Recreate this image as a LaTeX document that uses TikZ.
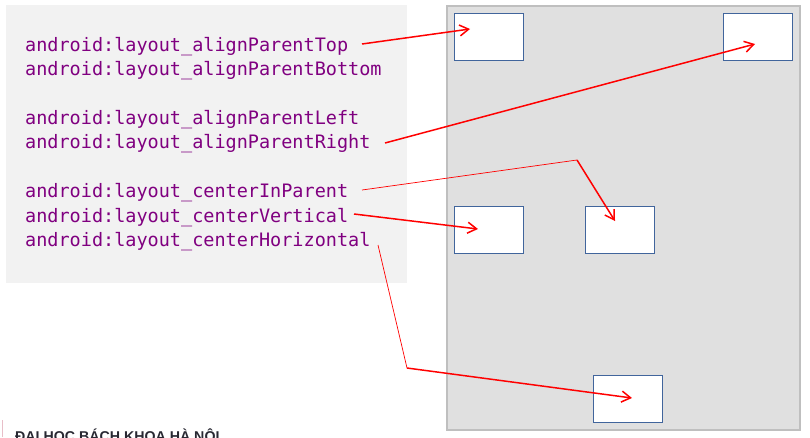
\documentclass[tikz,border=0pt]{standalone}
\usepackage{fontspec}
\setmainfont{Liberation Sans}
\newfontfamily\codefont{DejaVu Sans Mono}
\usetikzlibrary{arrows.meta,calc}
\definecolor{codepurple}{HTML}{800080}
\definecolor{panelgray}{HTML}{F2F2F2}
\definecolor{parentgray}{HTML}{E0E0E0}
\definecolor{parentborder}{HTML}{BFBFBF}
\definecolor{boxblue}{HTML}{41659C}
\definecolor{linkred}{HTML}{FF0000}
\tikzset{
  codeline/.style={anchor=base west, inner sep=0pt, text=codepurple,
    font=\codefont\fontsize{18.5}{22}\selectfont},
  childbox/.style={draw=boxblue, line width=1.4pt, fill=white, minimum width=69pt, minimum height=47pt, inner sep=0pt, anchor=north west},
  thicklink/.style={draw=linkred, line width=1.5pt, -{Straight Barb[length=9pt,width=11pt,line width=1.5pt]}},
  thinlink/.style={draw=linkred, line width=0.7pt},
}
\begin{document}
\begin{tikzpicture}[x=1pt,y=-1pt]
\useasboundingbox (0,0) rectangle (810,437);
\begin{scope}
\clip (0,0) rectangle (810,437);
% code panel
\fill[panelgray] (6,5) rectangle (407,283);
% parent panel
\draw[parentborder, line width=2pt, fill=parentgray] (447,6) rectangle (800,430);
% child boxes
\node[childbox] (b1) at (454,13) {};
\node[childbox] (b2) at (723,13) {};
\node[childbox] (b3) at (454,206) {};
\node[childbox] (b4) at (585,206) {};
\node[childbox] (b5) at (593,375) {};
% code lines
\node[codeline] (t1) at (25,51) {android:layout\_alignParentTop};
\node[codeline] (t2) at (25,75.5) {android:layout\_alignParentBottom};
\node[codeline] (t3) at (25,124) {android:layout\_alignParentLeft};
\node[codeline] (t4) at (25,148.5) {android:layout\_alignParentRight};
\node[codeline] (t5) at (25,197.5) {android:layout\_centerInParent};
\node[codeline] (t6) at (25,222) {android:layout\_centerVertical};
\node[codeline] (t7) at (25,246.5) {android:layout\_centerHorizontal};
% connector ends
\coordinate (s1) at (362,44);
\coordinate (e1) at (470,29);
\coordinate (s2) at (385,143);
\coordinate (e2) at (755,44);
\coordinate (s3) at (362,190);
\coordinate (k3) at (577,160);
\coordinate (e3) at (615,221);
\coordinate (s4) at (354,214);
\coordinate (e4) at (478,229);
\coordinate (s5) at (378,245);
\coordinate (k5) at (407,368);
\coordinate (e5) at (632,398);
% connectors
\draw[thicklink] (s1) -- (e1);
\draw[thicklink] (s2) -- (e2);
\draw[thinlink] (s3) -- (k3);
\draw[thicklink] (k3) -- (e3);
\draw[thicklink] (s4) -- (e4);
\draw[thinlink] (s5) -- (k5);
\draw[thicklink] (k5) -- (e5);
% footer
\draw[color={rgb,255:red,232;green,190;blue,200}, line width=0.8pt] (2,420) -- (2,437);
\node[anchor=base west, inner sep=0pt, text={rgb,255:red,40;green,40;blue,50}, font=\bfseries\fontsize{14.2}{16}\selectfont] (footer) at (15,441) {ĐẠI HỌC BÁCH KHOA HÀ NỘI};
\end{scope}
\end{tikzpicture}
\end{document}
